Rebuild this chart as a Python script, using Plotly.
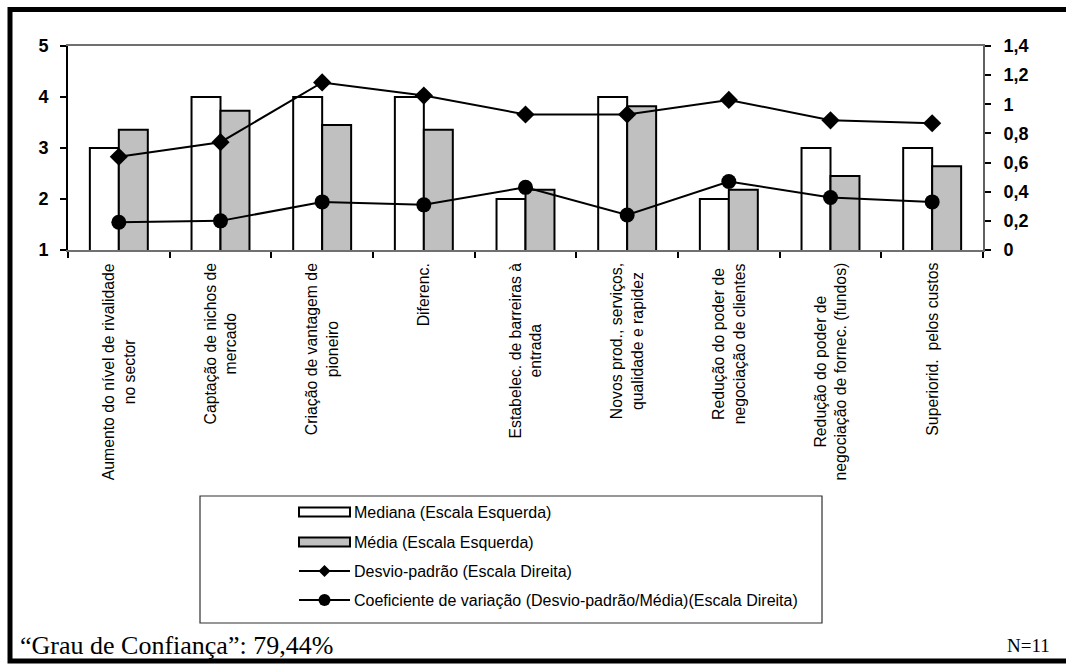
import plotly.graph_objects as go

# Estratégias avaliadas (eixo das categorias)
categorias = [
    "Aumento do nível de rivalidade<br>no sector",
    "Captação de nichos de<br>mercado",
    "Criação de vantagem de<br>pioneiro",
    "Diferenc.",
    "Estabelec. de barreiras à<br>entrada",
    "Novos prod., serviços,<br>qualidade e rapidez",
    "Redução do poder de<br>negociação de clientes",
    "Redução do poder de<br>negociação de fornec. (fundos)",
    "Superiorid.  pelos custos",
]

# Escala esquerda
mediana = [3, 4, 4, 4, 2, 4, 2, 3, 3]
media = [3.36, 3.73, 3.45, 3.36, 2.18, 3.82, 2.18, 2.45, 2.64]

# Escala direita
desvio_padrao = [0.64, 0.74, 1.15, 1.06, 0.93, 0.93, 1.03, 0.89, 0.87]
coef_variacao = [0.19, 0.20, 0.33, 0.31, 0.43, 0.24, 0.47, 0.36, 0.33]

nomes_legenda = [
    "Mediana (Escala Esquerda)",
    "Média (Escala Esquerda)",
    "Desvio-padrão (Escala Direita)",
    "Coeficiente de variação (Desvio-padrão/Média)(Escala Direita)",
]

W, H = 1066, 664
L, R, T, B = 68, 983, 46, 250  # plot area in pixels


def px(x):
    return (x - L) / (R - L)


def py(y):
    return (B - y) / (B - T)


SANS = "Arial, Liberation Sans, sans-serif"
SERIF = "Times New Roman, Liberation Serif, serif"
CINZA = "#C0C0C0"

fig = go.Figure()

fig.add_trace(go.Bar(
    x=categorias, y=mediana, name=nomes_legenda[0],
    marker=dict(color="white", line=dict(color="black", width=2)),
))
fig.add_trace(go.Bar(
    x=categorias, y=media, name=nomes_legenda[1],
    marker=dict(color=CINZA, line=dict(color="black", width=2)),
))
fig.add_trace(go.Scatter(
    x=categorias, y=desvio_padrao, name=nomes_legenda[2], yaxis="y2",
    mode="lines+markers", cliponaxis=False,
    line=dict(color="black", width=2),
    marker=dict(symbol="diamond", size=14, color="black"),
))
fig.add_trace(go.Scatter(
    x=categorias, y=coef_variacao, name=nomes_legenda[3], yaxis="y2",
    mode="lines+markers", cliponaxis=False,
    line=dict(color="black", width=2),
    marker=dict(symbol="circle", size=15, color="black"),
))

shapes = []
annotations = []

# Category labels, rotated and centred under each group
for c in categorias:
    annotations.append(dict(
        x=c, xref="x", y=py(261), yref="paper",
        text=c, showarrow=False, textangle=-90,
        xanchor="center", yanchor="top", align="center",
        font=dict(family=SANS, size=15.8, color="black"),
    ))

# Outer frame
shapes.append(dict(type="rect", xref="paper", yref="paper",
                   x0=px(10), x1=px(1080), y0=py(9.5), y1=py(661),
                   line=dict(color="black", width=5), fillcolor="rgba(0,0,0,0)"))

# Legend box
LX0, LX1, LY0, LY1 = 200, 822, 496, 623
shapes.append(dict(type="rect", xref="paper", yref="paper",
                   x0=px(LX0), x1=px(LX1), y0=py(LY0), y1=py(LY1),
                   line=dict(color="#303030", width=1.2), fillcolor="white",
                   layer="below"))

SX0, SX1 = 299, 350
SXC = (SX0 + SX1) / 2
rows = [512, 542, 571, 600]

# bar swatches
for yy, fill in zip(rows[:2], ["white", CINZA]):
    shapes.append(dict(type="rect", xref="paper", yref="paper",
                       x0=px(SX0), x1=px(SX1), y0=py(yy - 4.5), y1=py(yy + 4.5),
                       line=dict(color="black", width=2), fillcolor=fill))
# line swatches
for yy in rows[2:]:
    shapes.append(dict(type="line", xref="paper", yref="paper",
                       x0=px(SX0), x1=px(SX1), y0=py(yy), y1=py(yy),
                       line=dict(color="black", width=2)))
d = 6
yy = rows[2]
shapes.append(dict(type="path", xref="paper", yref="paper",
                   path=(f"M {px(SXC)} {py(yy - d)} L {px(SXC + d)} {py(yy)} "
                         f"L {px(SXC)} {py(yy + d)} L {px(SXC - d)} {py(yy)} Z"),
                   fillcolor="black", line=dict(color="black", width=0)))
yy = rows[3]
r = 6
shapes.append(dict(type="circle", xref="paper", yref="paper",
                   x0=px(SXC - r), x1=px(SXC + r), y0=py(yy - r), y1=py(yy + r),
                   fillcolor="black", line=dict(color="black", width=0)))

for yy, nome in zip(rows, nomes_legenda):
    annotations.append(dict(
        x=px(SX1 + 2), xref="paper", y=py(yy), yref="paper",
        text=nome, showarrow=False, xanchor="left", yanchor="middle",
        font=dict(family=SANS, size=16, color="black"),
    ))

# Footer notes
annotations.append(dict(
    x=px(18), xref="paper", y=py(645), yref="paper",
    text="“Grau de Confiança”: 79,44%", showarrow=False,
    xanchor="left", yanchor="middle",
    font=dict(family=SERIF, size=26, color="black"),
))
annotations.append(dict(
    x=px(1052), xref="paper", y=py(645), yref="paper",
    text="N=11", showarrow=False,
    xanchor="right", yanchor="middle",
    font=dict(family=SERIF, size=19, color="black"),
))

fig.update_layout(
    width=W, height=H, autosize=False,
    margin=dict(l=L, r=W - R, t=T, b=H - B, pad=0),
    paper_bgcolor="white", plot_bgcolor="white",
    separators=",.",
    showlegend=False,
    barmode="group", bargap=0.43, bargroupgap=0,
    xaxis=dict(
        type="category", range=[-0.5, len(categorias) - 0.5],
        showticklabels=False, showgrid=False, zeroline=False,
        showline=True, linecolor="#707070", linewidth=2, mirror=True,
        ticks="outside", tickson="boundaries", ticklen=6,
        tickcolor="black", tickwidth=1.5,
    ),
    yaxis=dict(
        range=[1, 5], dtick=1, showgrid=False, zeroline=False,
        showline=True, linecolor="black", linewidth=2,
        ticks="outside", ticklen=6, tickcolor="black", tickwidth=1.5,
        ticklabelstandoff=8,
        tickfont=dict(family=SANS, size=18, color="black", weight="bold"),
    ),
    yaxis2=dict(
        overlaying="y", side="right", anchor="x",
        range=[0, 1.4], dtick=0.2, showgrid=False, zeroline=False,
        showline=True, linecolor="#606060", linewidth=2,
        ticks="outside", ticklen=6, tickcolor="black", tickwidth=1.5,
        ticklabelstandoff=9,
        tickfont=dict(family=SANS, size=18, color="black", weight="bold"),
    ),
    shapes=shapes,
    annotations=annotations,
)

fig.write_html("out.html")
